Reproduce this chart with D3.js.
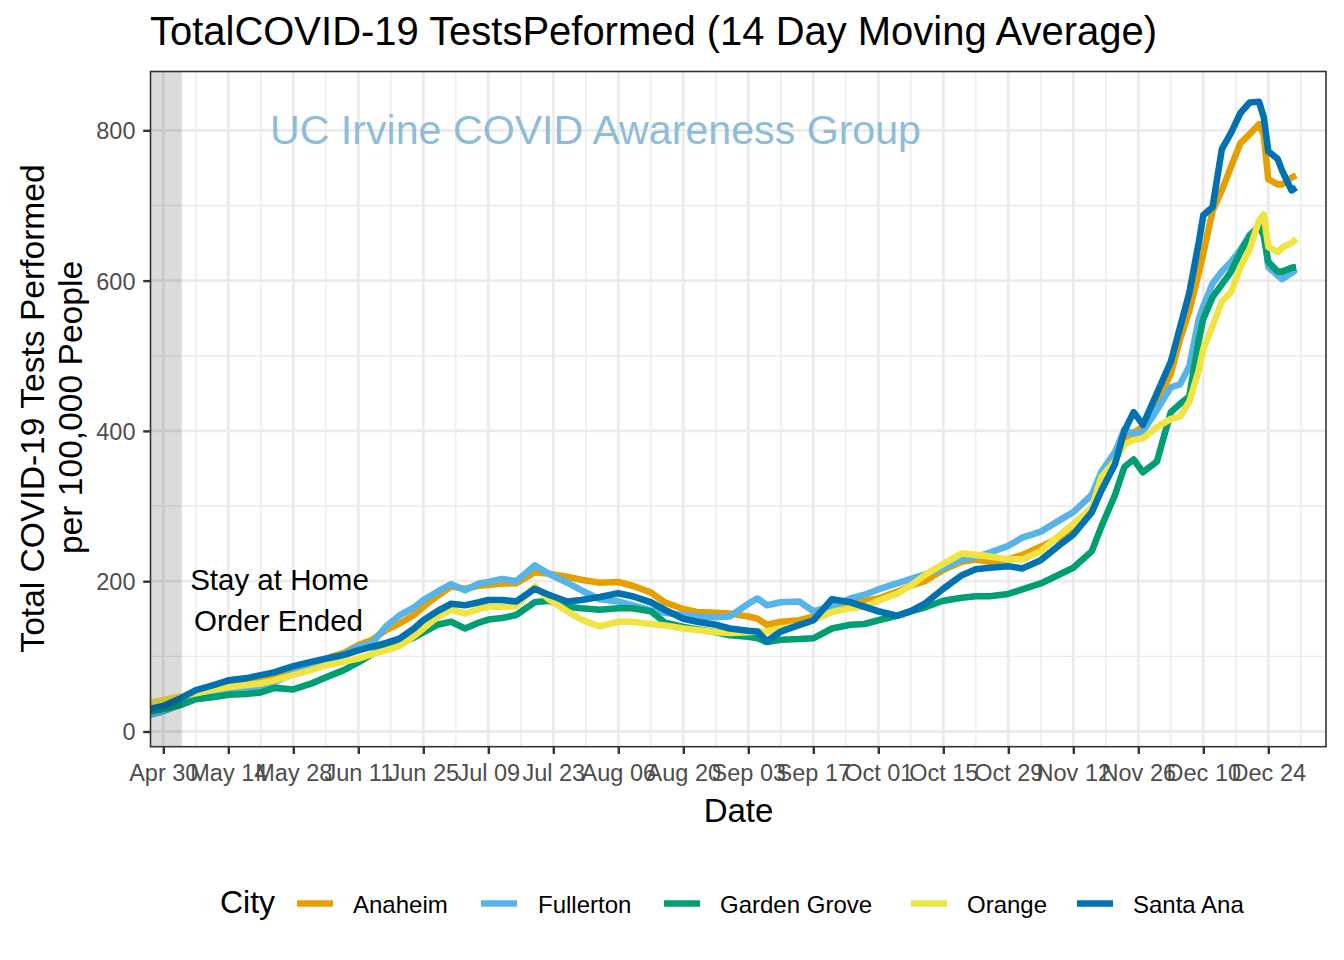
<!DOCTYPE html>
<html><head><meta charset="utf-8">
<script src="https://cdn.jsdelivr.net/npm/d3@7"></script>
<style>body{margin:0;background:#fff} text{font-family:"Liberation Sans",Arial,Helvetica,sans-serif}</style>
</head><body><svg id="c" width="1344" height="960"></svg>
<script>
const dates = ["2020-04-27","2020-04-30","2020-05-04","2020-05-07","2020-05-11","2020-05-14","2020-05-18","2020-05-21","2020-05-24","2020-05-28",
"2020-06-01","2020-06-04","2020-06-08","2020-06-11","2020-06-14","2020-06-17","2020-06-20","2020-06-23","2020-06-25","2020-06-28",
"2020-07-01","2020-07-04","2020-07-07","2020-07-09","2020-07-12","2020-07-15","2020-07-19","2020-07-22","2020-07-26","2020-07-29",
"2020-08-02","2020-08-06","2020-08-09","2020-08-13","2020-08-16","2020-08-20","2020-08-23","2020-08-27","2020-08-30","2020-09-03",
"2020-09-05","2020-09-07","2020-09-10","2020-09-14","2020-09-17","2020-09-21","2020-09-25","2020-09-28","2020-10-01","2020-10-05",
"2020-10-08","2020-10-11","2020-10-15","2020-10-19","2020-10-22","2020-10-25","2020-10-29","2020-11-01","2020-11-05","2020-11-09",
"2020-11-12","2020-11-16","2020-11-18","2020-11-21","2020-11-23","2020-11-25","2020-11-27","2020-11-30","2020-12-03","2020-12-05",
"2020-12-07","2020-12-09","2020-12-10","2020-12-12","2020-12-14","2020-12-16","2020-12-18","2020-12-20","2020-12-22","2020-12-23",
"2020-12-24","2020-12-26","2020-12-27","2020-12-29","2020-12-30"];

const cities = ["Anaheim","Fullerton","Garden Grove","Orange","Santa Ana"];
const colors = ["#E69F00","#56B4E9","#009E73","#F0E442","#0072B2"];

const anaheim = [34,38,45,51,57, 62,64,66,72,82, 90,97,105,115,122, 135,144,155,166,180,
 193,190,194,195,197, 197,212,210,206,202, 198,199,194,185,172, 163,159,158,157,153,
 150,142,146,148,153, 164,168,174,177,186, 194,200,215,226,229, 226,229,235,246,258,
 272,293,330,362,390, 398,405,439,476,522, 560,610,636,693,720, 752,783,795,808,795,
 735,728,728,737,740];
const fullerton = [22,27,36,44,48, 51,54,56,66,77, 86,93,103,113,118, 140,155,165,175,186,
 196,188,197,199,203, 200,221,210,198,188, 176,173,168,161,158, 155,153,152,153,170,
 177,168,172,173,160, 166,177,182,189,197, 203,209,217,229,232, 238,247,258,266,281,
 292,315,345,372,402, 395,399,428,458,462, 486,548,566,596,612, 625,641,661,672,668,
 618,607,602,610,615];
const gardenGrove = [27,30,36,43,46, 49,50,52,58,56, 64,72,82,92,103, 112,117,125,132,142,
 146,137,145,149,151, 155,172,174,166,164, 162,164,164,160,145, 139,136,132,128,126,
 124,119,122,123,124, 137,142,143,148,154, 160,165,174,178,180, 180,183,189,197,209,
 218,240,272,315,352, 362,345,359,425,436, 446,520,549,578,595, 612,638,659,673,660,
 625,612,612,617,618];
const orange = [38,42,47,51,56, 59,62,64,68,75, 82,88,93,97,103, 108,114,127,137,152,
 162,157,163,166,166, 167,193,176,160,149, 140,146,146,143,141, 137,135,132,131,132,
 133,133,137,141,148, 159,164,166,174,183, 194,208,223,237,235, 233,229,229,240,261,
 276,298,338,360,382, 388,390,405,416,419, 439,480,509,540,572, 585,618,642,680,688,
 645,638,644,650,656];
const santaAna = [30,34,45,55,62, 68,71,75,79,87, 93,97,102,108,113, 118,124,137,148,160,
 170,168,172,175,175, 173,190,182,173,175, 179,184,180,172,162, 150,146,142,137,134,
 133,120,133,142,148, 176,172,166,160,154, 160,170,190,208,216, 218,220,217,228,248,
 262,292,320,356,400, 425,408,450,492,538, 584,650,687,698,775, 797,823,837,838,818,
 772,762,746,720,724];

const seriesValues = [anaheim, fullerton, gardenGrove, orange, santaAna];

const xTickDates = ["2020-04-30","2020-05-14","2020-05-28","2020-06-11","2020-06-25","2020-07-09","2020-07-23",
"2020-08-06","2020-08-20","2020-09-03","2020-09-17","2020-10-01","2020-10-15","2020-10-29","2020-11-12",
"2020-11-26","2020-12-10","2020-12-24"];
const yTicks = [0,200,400,600,800];
const yMinor = [100,300,500,700];
const shadeEnd = "2020-05-04";

const parse = d3.timeParse("%Y-%m-%d");
const fmt = d3.timeFormat("%b %d");
const svg = d3.select("#c");
const P = {l:150.5, r:1326, t:71.5, b:746.7};

const x = d3.scaleTime().domain([parse("2020-04-30"), parse("2020-12-24")]).range([163.3, 1268.3]);
const y = d3.scaleLinear().domain([0,800]).range([731.5, 130.3]);

svg.append("rect").attr("width",1344).attr("height",960).attr("fill","#fff");

// gridlines
const tickD = xTickDates.map(parse);
const minorX = tickD.map(d => d3.timeDay.offset(d, 7));
const grid = svg.append("g");
grid.selectAll(".mx").data(minorX.filter(d => x(d) < P.r)).enter().append("line")
  .attr("x1", d=>x(d)).attr("x2", d=>x(d)).attr("y1",P.t).attr("y2",P.b)
  .attr("stroke","#ebebeb").attr("stroke-width",1.4);
grid.selectAll(".my").data(yMinor).enter().append("line")
  .attr("x1",P.l).attr("x2",P.r).attr("y1",d=>y(d)).attr("y2",d=>y(d))
  .attr("stroke","#ebebeb").attr("stroke-width",1.4);
grid.selectAll(".Mx").data(tickD).enter().append("line")
  .attr("x1", d=>x(d)).attr("x2", d=>x(d)).attr("y1",P.t).attr("y2",P.b)
  .attr("stroke","#ebebeb").attr("stroke-width",2.8);
grid.selectAll(".My").data(yTicks).enter().append("line")
  .attr("x1",P.l).attr("x2",P.r).attr("y1",d=>y(d)).attr("y2",d=>y(d))
  .attr("stroke","#ebebeb").attr("stroke-width",2.8);

// clip
svg.append("clipPath").attr("id","clip").append("rect")
  .attr("x",P.l).attr("y",P.t).attr("width",P.r-P.l).attr("height",P.b-P.t);

const dd = dates.map(parse);
const line = d3.line().x((d,i)=>x(dd[i])).y(d=>y(d)).curve(d3.curveLinear);
const lg = svg.append("g").attr("clip-path","url(#clip)");
seriesValues.forEach((vals,k)=>{
  lg.append("path").datum(vals).attr("d",line).attr("fill","none")
    .attr("stroke",colors[k]).attr("stroke-width",6.6)
    .attr("stroke-linejoin","round").attr("stroke-linecap","butt");
});

// shaded rect
svg.append("rect").attr("x",P.l).attr("y",P.t).attr("width",x(parse(shadeEnd))-P.l).attr("height",P.b-P.t)
  .attr("fill","#000").attr("fill-opacity",0.14);

// annotations
svg.append("text").attr("x",279.5).attr("y",590).attr("text-anchor","middle")
  .attr("font-size",29.5).attr("fill","#000").text("Stay at Home");
svg.append("text").attr("x",278.5).attr("y",630.5).attr("text-anchor","middle")
  .attr("font-size",29.5).attr("fill","#000").text("Order Ended");
svg.append("text").attr("x",270).attr("y",144).attr("font-size",41)
  .attr("fill","#8fbcd8").attr("textLength",651).attr("lengthAdjust","spacingAndGlyphs")
  .text("UC Irvine COVID Awareness Group");

// border
svg.append("rect").attr("x",P.l).attr("y",P.t).attr("width",P.r-P.l).attr("height",P.b-P.t)
  .attr("fill","none").attr("stroke","#333").attr("stroke-width",1.6);

// axes
const xa = svg.append("g").attr("transform",`translate(0,${P.b})`)
  .call(d3.axisBottom(x).tickValues(tickD).tickFormat(fmt).tickSize(7.3).tickPadding(4));
xa.select(".domain").remove();
xa.selectAll(".tick line").attr("stroke","#333").attr("stroke-width",2.4);
xa.selectAll(".tick text").attr("font-size",23.5).attr("fill","#4d4d4d")
  .attr("font-family","Liberation Sans, Arial, sans-serif").attr("dy",null).attr("y",34.5);

const ya = svg.append("g").attr("transform",`translate(${P.l},0)`)
  .call(d3.axisLeft(y).tickValues(yTicks).tickSize(7.3).tickPadding(5));
ya.select(".domain").remove();
ya.selectAll(".tick line").attr("stroke","#333").attr("stroke-width",2.4);
ya.selectAll(".tick text").attr("font-size",23.5).attr("fill","#4d4d4d")
  .attr("font-family","Liberation Sans, Arial, sans-serif").attr("dy","0.36em").attr("x",-15);

// titles
svg.append("text").attr("x",150).attr("y",45).attr("font-size",40).attr("fill","#000")
  .attr("textLength",1007).attr("lengthAdjust","spacingAndGlyphs")
  .text("TotalCOVID-19 TestsPeformed (14 Day Moving Average)");
svg.append("text").attr("x",738.5).attr("y",822).attr("text-anchor","middle")
  .attr("font-size",33).attr("fill","#000").text("Date");
svg.append("text").attr("transform","translate(44,408.5) rotate(-90)").attr("text-anchor","middle")
  .attr("font-size",33.6).attr("fill","#000").text("Total COVID-19 Tests Performed");
svg.append("text").attr("transform","translate(82,407.5) rotate(-90)").attr("text-anchor","middle")
  .attr("font-size",33.6).attr("fill","#000").text("per 100,000 People");

// legend
svg.append("text").attr("x",220).attr("y",913).attr("font-size",32).attr("fill","#000").text("City");
const keyX = [297, 481, 664, 911, 1077];
const labX = [353, 538, 720, 967, 1133];
cities.forEach((c,k)=>{
  svg.append("line").attr("x1",keyX[k]).attr("x2",keyX[k]+36).attr("y1",903.5).attr("y2",903.5)
    .attr("stroke",colors[k]).attr("stroke-width",6.6);
  svg.append("text").attr("x",labX[k]).attr("y",912.5).attr("font-size",24).attr("fill","#000").text(c);
});
</script></body></html>
